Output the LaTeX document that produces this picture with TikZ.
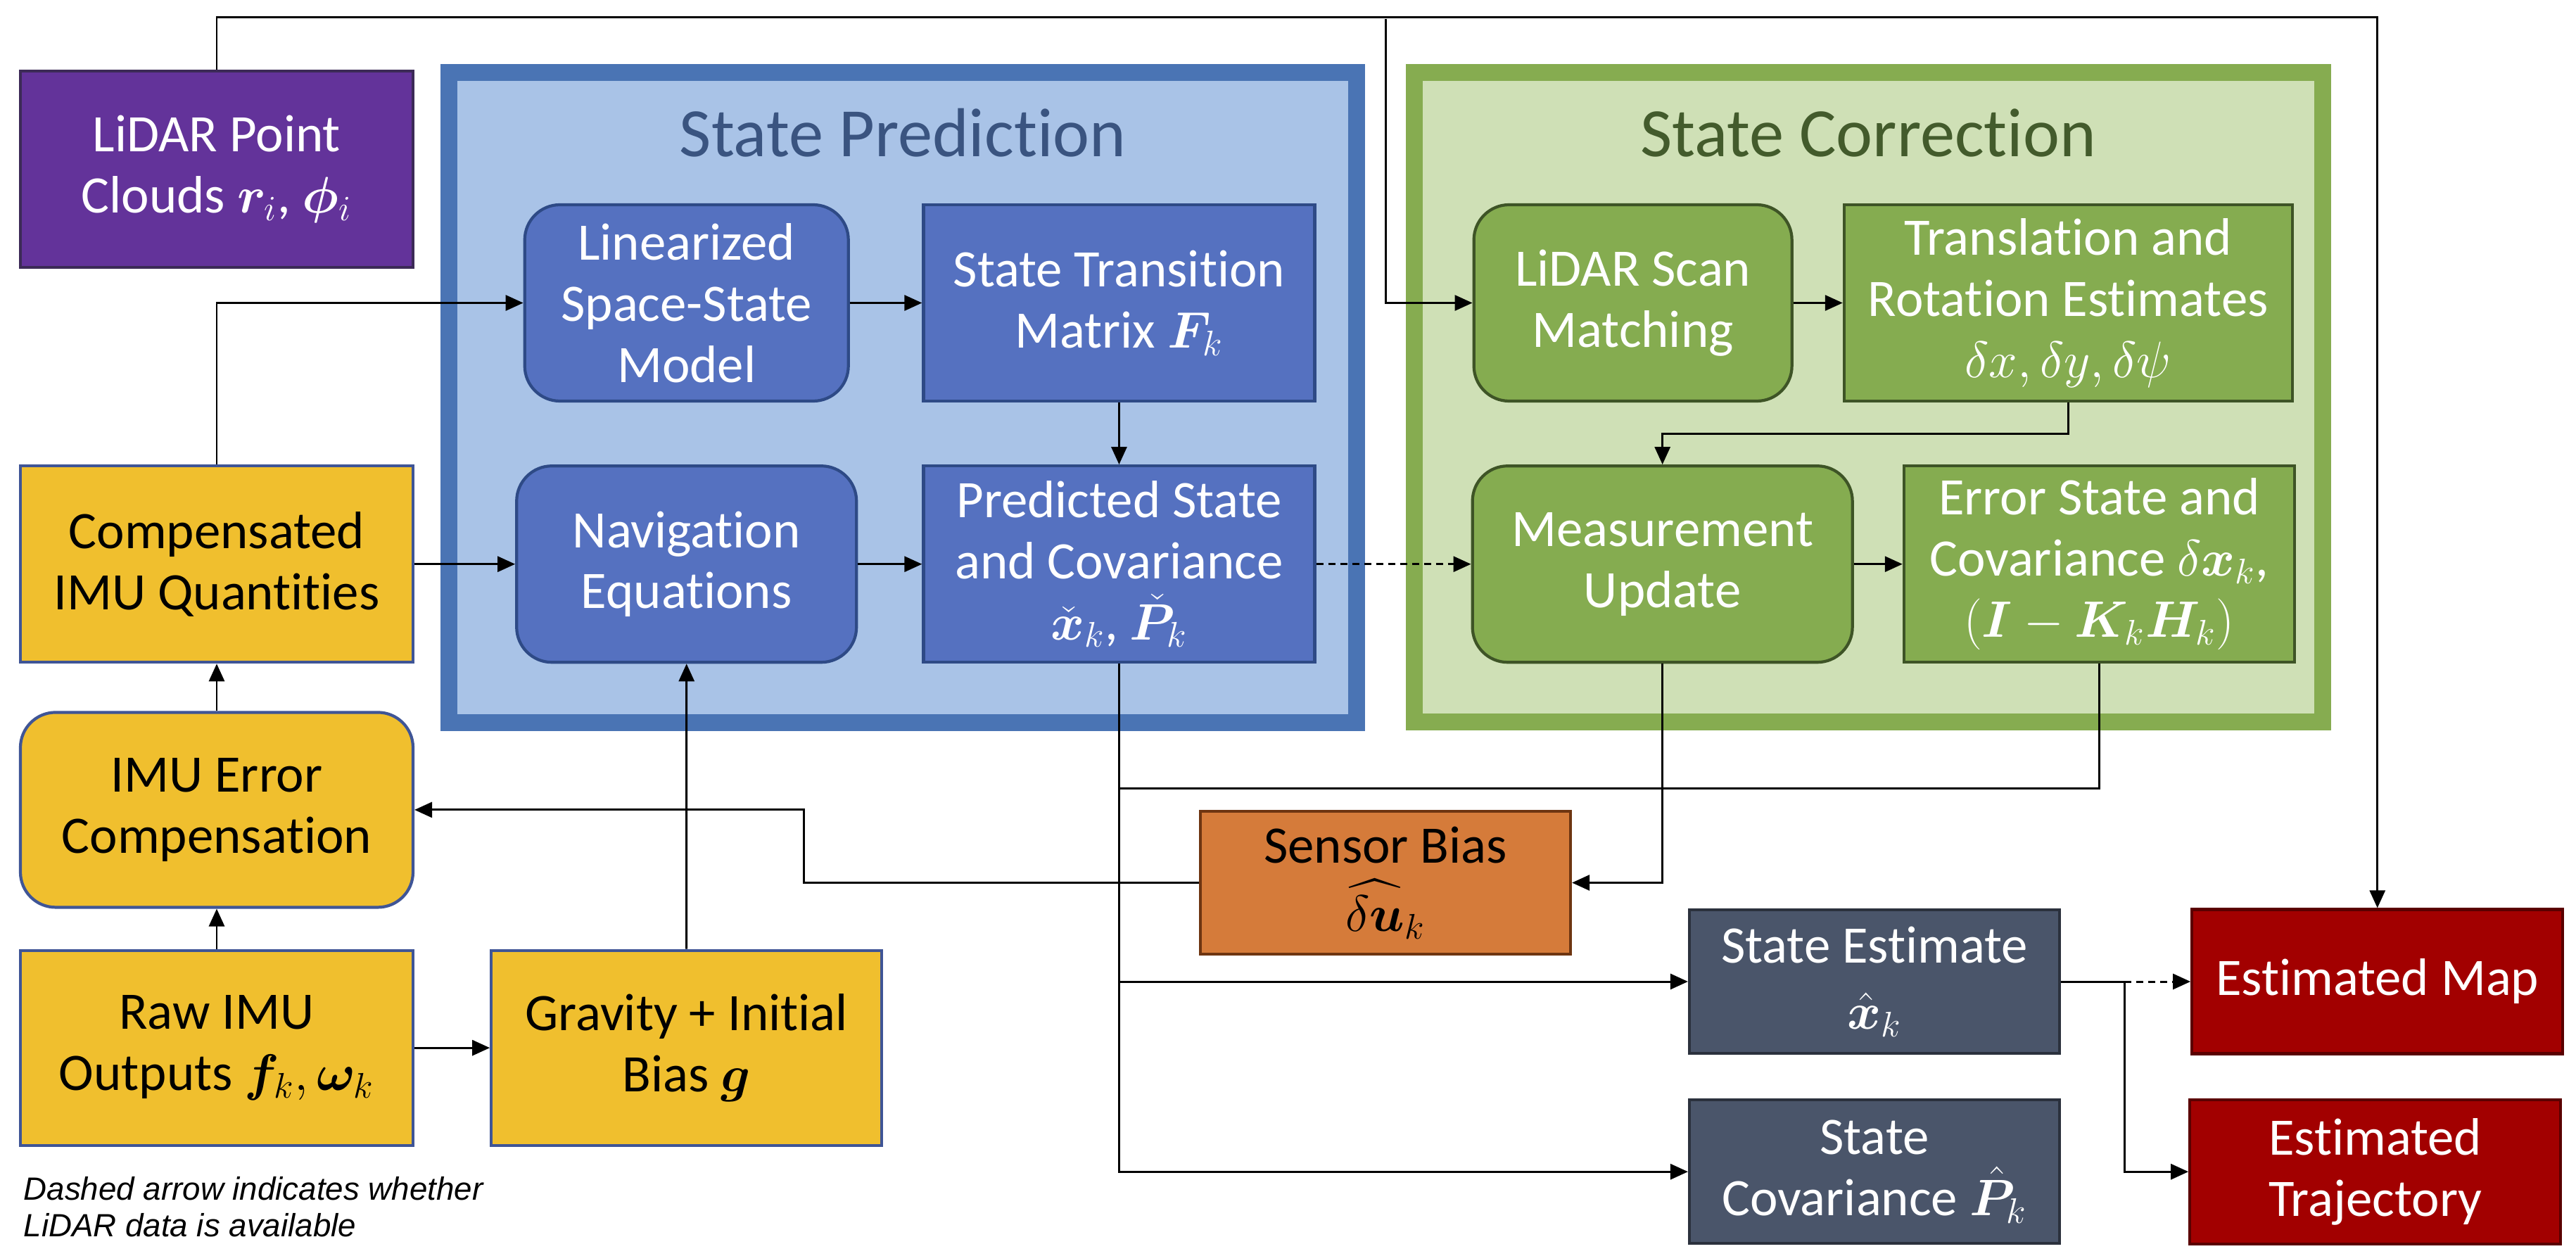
\documentclass[tikz,border=0pt]{standalone}
\usepackage{fontspec}
\setmainfont{Carlito}[Ligatures=NoCommon]
\newfontfamily\notefont{Liberation Sans}
\usepackage{amsmath}
\usepackage{bm}
\usetikzlibrary{arrows.meta,positioning,calc}
\definecolor{LidarFill}{HTML}{63339A}
\definecolor{LidarLine}{HTML}{3C2A57}
\definecolor{PredFrame}{HTML}{4A74B4}
\definecolor{PredBg}{HTML}{A9C3E7}
\definecolor{PredFill}{HTML}{5571C0}
\definecolor{PredLine}{HTML}{2E4A86}
\definecolor{PredTitle}{HTML}{3A5480}
\definecolor{CorrFrame}{HTML}{86AC50}
\definecolor{CorrBg}{HTML}{CFE0B6}
\definecolor{CorrFill}{HTML}{85AC50}
\definecolor{CorrLine}{HTML}{3E5426}
\definecolor{CorrTitle}{HTML}{435B2C}
\definecolor{ImuFill}{HTML}{F0BF2E}
\definecolor{ImuLine}{HTML}{3F5596}
\definecolor{BiasFill}{HTML}{D57B3A}
\definecolor{BiasLine}{HTML}{6E3511}
\definecolor{OutFill}{HTML}{4A556A}
\definecolor{OutLine}{HTML}{2B313D}
\definecolor{ResFill}{HTML}{A20000}
\definecolor{ResLine}{HTML}{5A0000}

\begin{document}
\begin{tikzpicture}[
  node distance=1cm,
  block/.style={rectangle, line width=1.2pt, align=center, inner sep=0pt, text=white, font=\fontsize{21.3pt}{24.7pt}\selectfont},
  lidarbox/.style={block, draw=LidarLine, fill=LidarFill, minimum width=5.58cm, minimum height=2.79cm},
  imubox/.style={block, draw=ImuLine, fill=ImuFill, text=black, minimum width=5.58cm, minimum height=2.79cm},
  predbox/.style={block, draw=PredLine, fill=PredFill, minimum width=5.56cm, minimum height=2.79cm},
  corrbox/.style={block, draw=CorrLine, fill=CorrFill, minimum height=2.79cm},
  biasbox/.style={block, draw=BiasLine, fill=BiasFill, text=black, minimum width=5.26cm, minimum height=2.03cm},
  outbox/.style={block, draw=OutLine, fill=OutFill, minimum width=5.26cm, minimum height=2.04cm},
  resbox/.style={block, draw=ResLine, fill=ResFill, minimum width=5.27cm, minimum height=2.05cm},
  frametitle/.style={anchor=base, inner sep=0pt, font=\fontsize{28pt}{33pt}\selectfont},
  arrow/.style={-{Triangle[length=0.25cm,width=0.22cm]}, line width=0.85pt, black},
  link/.style={line width=0.85pt, black},
  lidarwait/.style={dash pattern=on 0.1cm off 0.07cm}
]
\useasboundingbox[fill=white] (0,0) rectangle (36.61,-17.85);

% Frames
\draw[line width=0.24cm, draw=PredFrame, fill=PredBg] (6.38,-1.035) rectangle (19.28,-10.27);
\draw[line width=0.24cm, draw=CorrFrame, fill=CorrBg] (20.10,-1.035) rectangle (33.005,-10.26);
\node[frametitle, text=PredTitle] (predtitle) at (12.83,-2.23) {State Prediction};
\node[frametitle, text=CorrTitle] (corrtitle) at (26.55,-2.23) {State Correction};

% Sensor inputs
\node[lidarbox] (lidar) at (3.08,-2.405) {LiDAR Point\\Clouds $\bm{r}_i$, $\bm{\phi}_i$};
\node[imubox, below=2.78cm of lidar] (comp) {Compensated\\IMU Quantities};
\node[imubox, rounded corners=0.5cm, minimum height=2.77cm, below=0.67cm of comp] (imuerr) {IMU Error\\Compensation};
\node[imubox, minimum height=2.77cm, below=0.57cm of imuerr] (raw) {Raw IMU\\Outputs $\bm{f}_k, \bm{\omega}_k$};
\node[imubox, minimum width=5.55cm, minimum height=2.77cm, right=1.07cm of raw] (gravity) {Gravity + Initial\\Bias $\bm{g}$};

% State Prediction
\node[predbox, rounded corners=0.5cm, minimum width=4.83cm, right=1.43cm of comp] (nav) {Navigation\\Equations};
\node[predbox, right=0.91cm of nav] (pred) {Predicted State\\and Covariance\\$\check{\bm{x}}_k$, $\check{\bm{P}}_k$};
\node[predbox, rounded corners=0.5cm, minimum width=4.60cm, above=0.88cm of nav] (lin) {Linearized\\Space-State\\Model};
\node[predbox, above=0.88cm of pred] (trans) {State Transition\\Matrix $\bm{F}_k$};

% State Correction
\node[corrbox, rounded corners=0.5cm, minimum width=4.52cm, right=2.22cm of trans] (scan) {LiDAR Scan\\Matching};
\node[corrbox, minimum width=6.37cm, right=0.70cm of scan] (transl) {Translation and\\Rotation Estimates\\$\delta x, \delta y, \delta\psi$};
\node[corrbox, rounded corners=0.5cm, minimum width=5.40cm, right=2.20cm of pred] (meas) {Measurement\\Update};
\node[corrbox, minimum width=5.55cm, right=0.69cm of meas] (err) {Error State and\\Covariance $\delta\bm{x}_k$,\\$(\bm{I}-\bm{K}_k\bm{H}_k)$};

% Outputs
\node[biasbox] (bias) at (19.69,-12.545) {Sensor Bias\\[3pt]$\widehat{\delta\bm{u}}_k$};
\node[outbox] (est) at (26.64,-13.95) {State Estimate\\[2pt]$\hat{\bm{x}}_k$};
\node[outbox, below=0.62cm of est] (cov) {State\\Covariance $\hat{\bm{P}}_k$};
\node[resbox, right=1.84cm of est] (map) {Estimated Map};
\node[resbox, right=1.81cm of cov] (traj) {Estimated\\Trajectory};

% Note
\node[anchor=north west, inner sep=0pt, align=left, font=\notefont\itshape\fontsize{13pt}{14.8pt}\selectfont] (note) at (0.33,-16.72) {Dashed arrow indicates whether\\LiDAR data is available};

% Arrows
\coordinate (lidartap) at (19.69,-0.27);
\draw[arrow] (lidar.north) -- ++(0,0.74) -| (map.north);
\draw[arrow] (lidartap) |- (scan.west);
\draw[arrow] (comp.north) |- (lin.west);
\draw[arrow] (comp) -- (nav);
\draw[arrow] (lin) -- (trans);
\draw[arrow] (trans) -- (pred);
\draw[arrow] (nav) -- (pred);
\draw[arrow, lidarwait] (pred) -- (meas);
\draw[arrow] (scan) -- (transl);
\draw[arrow] (transl.south) -- ++(0,-0.44) -| (meas.north);
\draw[arrow] (meas) -- (err);
\coordinate (predjoin) at ($(pred.south)+(0,-1.77)$);
\draw[link] (err.south) |- (predjoin);
\coordinate (estjoin) at (pred.south |- est.west);
\draw[arrow] (pred.south) |- (cov.west);
\draw[arrow] (estjoin) -- (est.west);
\draw[arrow] (meas.south) |- (bias.east);
\draw[arrow] (bias.west) -- ++(-5.61,0) |- (imuerr.east);
\draw[arrow] (imuerr) -- (comp);
\draw[arrow] (raw) -- (imuerr);
\draw[arrow] (raw) -- (gravity);
\draw[arrow] (gravity) -- (nav);
\draw[link] (est.east) -- ++(0.90,0) coordinate (mapsplit);
\draw[arrow, lidarwait] (mapsplit) -- (map.west);
\draw[arrow] (mapsplit) |- (traj.west);

\end{tikzpicture}
\end{document}
